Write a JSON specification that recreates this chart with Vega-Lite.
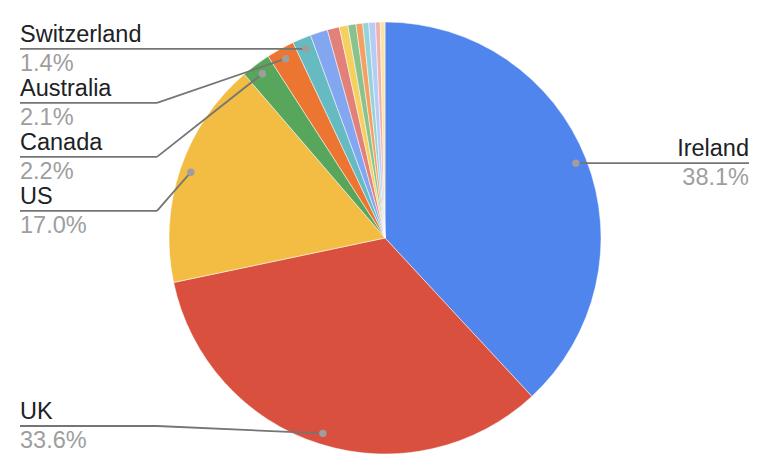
{
  "$schema": "https://vega.github.io/schema/vega-lite/v6.json",
  "width": 776,
  "height": 472,
  "padding": 0,
  "autosize": {"type": "none"},
  "background": "white",
  "config": {"view": {"stroke": null}},
  "data": {
    "values": [
      {"country": "Ireland", "pct": 38.1},
      {"country": "UK", "pct": 33.6},
      {"country": "US", "pct": 17.0},
      {"country": "Canada", "pct": 2.2},
      {"country": "Australia", "pct": 2.1},
      {"country": "Switzerland", "pct": 1.4},
      {"country": "Germany", "pct": 1.3},
      {"country": "France", "pct": 0.9},
      {"country": "Netherlands", "pct": 0.65},
      {"country": "Spain", "pct": 0.6},
      {"country": "Italy", "pct": 0.5},
      {"country": "Sweden", "pct": 0.45},
      {"country": "India", "pct": 0.5},
      {"country": "New Zealand", "pct": 0.35},
      {"country": "Other", "pct": 0.35}
    ]
  },
  "transform": [
    {"window": [{"op": "row_number", "as": "i"}, {"op": "sum", "field": "pct", "as": "cum"}], "frame": [null, 0]},
    {"calculate": "(datum.cum - datum.pct / 2) * PI / 50", "as": "ang"},
    {"calculate": "205 * sin(datum.ang)", "as": "dotX"},
    {"calculate": "205 * cos(datum.ang)", "as": "dotY"}
  ],
  "layer": [
    {
      "mark": {"type": "arc", "outerRadius": 216, "stroke": "#ffffff", "strokeWidth": 0.5},
      "encoding": {
        "theta": {"field": "pct", "type": "quantitative", "stack": true},
        "order": {"field": "i", "type": "quantitative"},
        "color": {
          "field": "country",
          "type": "nominal",
          "legend": null,
          "scale": {
            "domain": ["Ireland", "UK", "US", "Canada", "Australia", "Switzerland", "Germany", "France", "Netherlands", "Spain", "Italy", "Sweden", "India", "New Zealand", "Other"],
            "range": ["#4f85ec", "#d9503f", "#f2bd42", "#58a65c", "#eb7531", "#66bbc2", "#82a7f0", "#e2807a", "#f6d05e", "#87c28f", "#f3a062", "#96d3d8", "#b5ccf6", "#eeb1ac", "#fbe3a6"]
          }
        },
        "x": {"datum": 0, "type": "quantitative", "scale": {"domain": [-385, 391], "nice": false, "zero": false}, "axis": null},
        "y": {"datum": 0, "type": "quantitative", "scale": {"domain": [-234, 238], "nice": false, "zero": false}, "axis": null}
      }
    },
    {
      "transform": [
        {"filter": "datum.pct >= 1.4"},
        {"calculate": "datum.ang > PI ? 'left' : 'right'", "as": "side"},
        {"window": [{"op": "row_number", "as": "r"}, {"op": "first_value", "field": "dotY", "as": "topY"}], "sort": [{"field": "ang", "order": "descending"}], "groupby": ["side"], "frame": [null, null]},
        {"calculate": "datum.side == 'left' ? max(min(datum.dotY, datum.topY - 54 * (datum.r - 1)), -188) : datum.dotY", "as": "ly"},
        {"calculate": "datum.side == 'left' ? -365 : 364", "as": "lx"},
        {"calculate": "datum.side == 'left' ? -228 : 227", "as": "ex"},
        {"calculate": "format(datum.pct, '.1f') + '%'", "as": "pctLabel"}
      ],
      "layer": [
        {
          "mark": {"type": "rule", "color": "#757575", "strokeWidth": 1.8},
          "encoding": {
            "x": {"field": "lx", "type": "quantitative", "scale": {"domain": [-385, 391], "nice": false, "zero": false}, "axis": null},
            "x2": {"field": "ex"},
            "y": {"field": "ly", "type": "quantitative", "scale": {"domain": [-234, 238], "nice": false, "zero": false}, "axis": null},
            "y2": {"field": "ly"}
          }
        },
        {
          "mark": {"type": "rule", "color": "#757575", "strokeWidth": 1.8},
          "encoding": {
            "x": {"field": "ex", "type": "quantitative", "scale": {"domain": [-385, 391], "nice": false, "zero": false}, "axis": null},
            "x2": {"field": "dotX"},
            "y": {"field": "ly", "type": "quantitative", "scale": {"domain": [-234, 238], "nice": false, "zero": false}, "axis": null},
            "y2": {"field": "dotY"}
          }
        },
        {
          "mark": {"type": "point", "filled": true, "color": "#9e9e9e", "opacity": 1, "size": 55},
          "encoding": {
            "x": {"field": "dotX", "type": "quantitative", "scale": {"domain": [-385, 391], "nice": false, "zero": false}, "axis": null},
            "y": {"field": "dotY", "type": "quantitative", "scale": {"domain": [-234, 238], "nice": false, "zero": false}, "axis": null}
          }
        },
        {
          "mark": {"type": "text", "font": "Liberation Sans", "fontSize": 23.5, "color": "#202124", "baseline": "alphabetic", "dy": -7, "align": {"expr": "datum.side == 'left' ? 'left' : 'right'"}},
          "encoding": {
            "x": {"field": "lx", "type": "quantitative", "scale": {"domain": [-385, 391], "nice": false, "zero": false}, "axis": null},
            "y": {"field": "ly", "type": "quantitative", "scale": {"domain": [-234, 238], "nice": false, "zero": false}, "axis": null},
            "text": {"field": "country"}
          }
        },
        {
          "mark": {"type": "text", "font": "Liberation Sans", "fontSize": 23.5, "color": "#9e9e9e", "baseline": "alphabetic", "dy": 22, "align": {"expr": "datum.side == 'left' ? 'left' : 'right'"}},
          "encoding": {
            "x": {"field": "lx", "type": "quantitative", "scale": {"domain": [-385, 391], "nice": false, "zero": false}, "axis": null},
            "y": {"field": "ly", "type": "quantitative", "scale": {"domain": [-234, 238], "nice": false, "zero": false}, "axis": null},
            "text": {"field": "pctLabel"}
          }
        }
      ]
    }
  ]
}
